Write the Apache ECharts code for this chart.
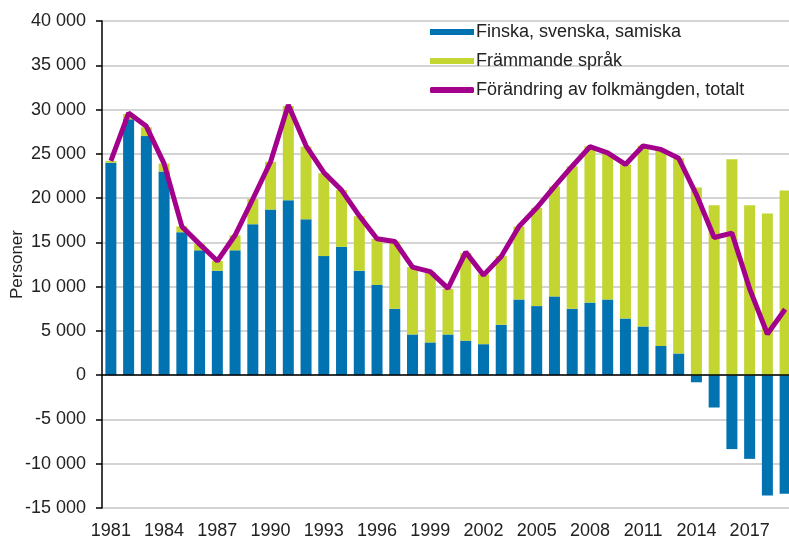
<!DOCTYPE html>
<html>
<head>
<meta charset="utf-8">
<script src="https://cdn.jsdelivr.net/npm/echarts@6/dist/echarts.min.js"></script>
<style>html,body{margin:0;padding:0;background:#fff}#c{width:789px;height:540px}</style>
</head>
<body>
<div id="c"></div>
<script>
var years = [];
for (var y = 1981; y <= 2019; y++) years.push(String(y));

var domestic = [24000, 28900, 27000, 23000, 16150, 14100, 11800, 14100, 17050, 18700,
  19750, 17600, 13450, 14500, 11800, 10200, 7500, 4600, 3700, 4600,
  3900, 3500, 5700, 8550, 7800, 8900, 7500, 8200, 8550, 6400,
  5500, 3300, 2450, -800, -3650, -8350, -9450, -13600, -13400];

var foreign = [200, 600, 1000, 900, 650, 700, 1100, 1700, 2850, 5400,
  10650, 8200, 9350, 6400, 6150, 5200, 7600, 7600, 7950, 5150,
  9900, 7900, 7750, 8250, 11100, 12400, 16100, 17650, 16550, 17400,
  20400, 22200, 22050, 21200, 19200, 24400, 19200, 18250, 20850];

var total = [24200, 29600, 28100, 23900, 16800, 14800, 12900, 15800, 19900, 24100,
  30500, 25900, 22900, 20900, 18000, 15400, 15100, 12200, 11700, 9800,
  13900, 11300, 13400, 16800, 18900, 21300, 23600, 25800, 25100, 23800,
  25900, 25500, 24500, 20400, 15550, 16050, 9750, 4650, 7450];

var names = ['Finska, svenska, samiska', 'Främmande språk', 'Förändring av folkmängden, totalt'];

var FONT = 'Liberation Sans, Arial, sans-serif';
var chart = echarts.init(document.getElementById('c'));
chart.setOption({
  animation: false,
  textStyle: { fontFamily: FONT, color: '#222' },
  legend: {
    orient: 'vertical',
    left: 425,
    top: 18,
    itemWidth: 44,
    itemHeight: 6,
    itemGap: 11,
    textStyle: { fontFamily: FONT, fontSize: 18, color: '#222', padding: [0, 0, 0, -3] },
    data: [
      { name: names[0], icon: 'rect' },
      { name: names[1], icon: 'rect' },
      { name: names[2], icon: 'roundRect' }
    ]
  },
  grid: { left: 102, top: 21, width: 692, height: 487, containLabel: false, outerBoundsMode: 'none' },
  xAxis: {
    type: 'category',
    data: years,
    axisLine: { show: false },
    axisTick: { show: false },
    axisLabel: { interval: 2, margin: 14, fontSize: 18, color: '#222', fontFamily: FONT }
  },
  yAxis: {
    type: 'value',
    min: -15000,
    max: 40000,
    interval: 5000,
    name: 'Personer',
    nameLocation: 'middle',
    nameRotate: 90,
    nameGap: 76,
    nameMoveOverlap: false,
    nameTextStyle: { fontSize: 17, color: '#222', fontFamily: FONT },
    axisLine: { show: true, lineStyle: { color: '#000', width: 1.5 } },
    axisTick: { show: true, length: 6, lineStyle: { color: '#000', width: 1.5 } },
    axisLabel: {
      margin: 16, fontSize: 18, color: '#222', fontFamily: FONT,
      formatter: function (v) {
        var s = String(Math.abs(v)).replace(/\B(?=(\d{3})+(?!\d))/g, ' ');
        return (v < 0 ? '-' : '') + s;
      }
    },
    splitLine: { lineStyle: { color: '#c6c6c6', width: 1.5 } }
  },
  series: [
    {
      name: names[0], type: 'bar', stack: 'a', data: domestic,
      barWidth: '62%',
      itemStyle: { color: '#0073b0' },
      markLine: {
        silent: true, symbol: 'none', label: { show: false },
        lineStyle: { color: '#000', width: 1.5, type: 'solid' },
        data: [{ yAxis: 0 }]
      }
    },
    {
      name: names[1], type: 'bar', stack: 'a', data: foreign,
      barWidth: '62%',
      itemStyle: { color: '#c2d530' }
    },
    {
      name: names[2], type: 'line', data: total, z: 5,
      symbol: 'none', showSymbol: false,
      lineStyle: { color: '#a3008c', width: 5 },
      itemStyle: { color: '#a3008c' }
    }
  ]
});
</script>
</body>
</html>
